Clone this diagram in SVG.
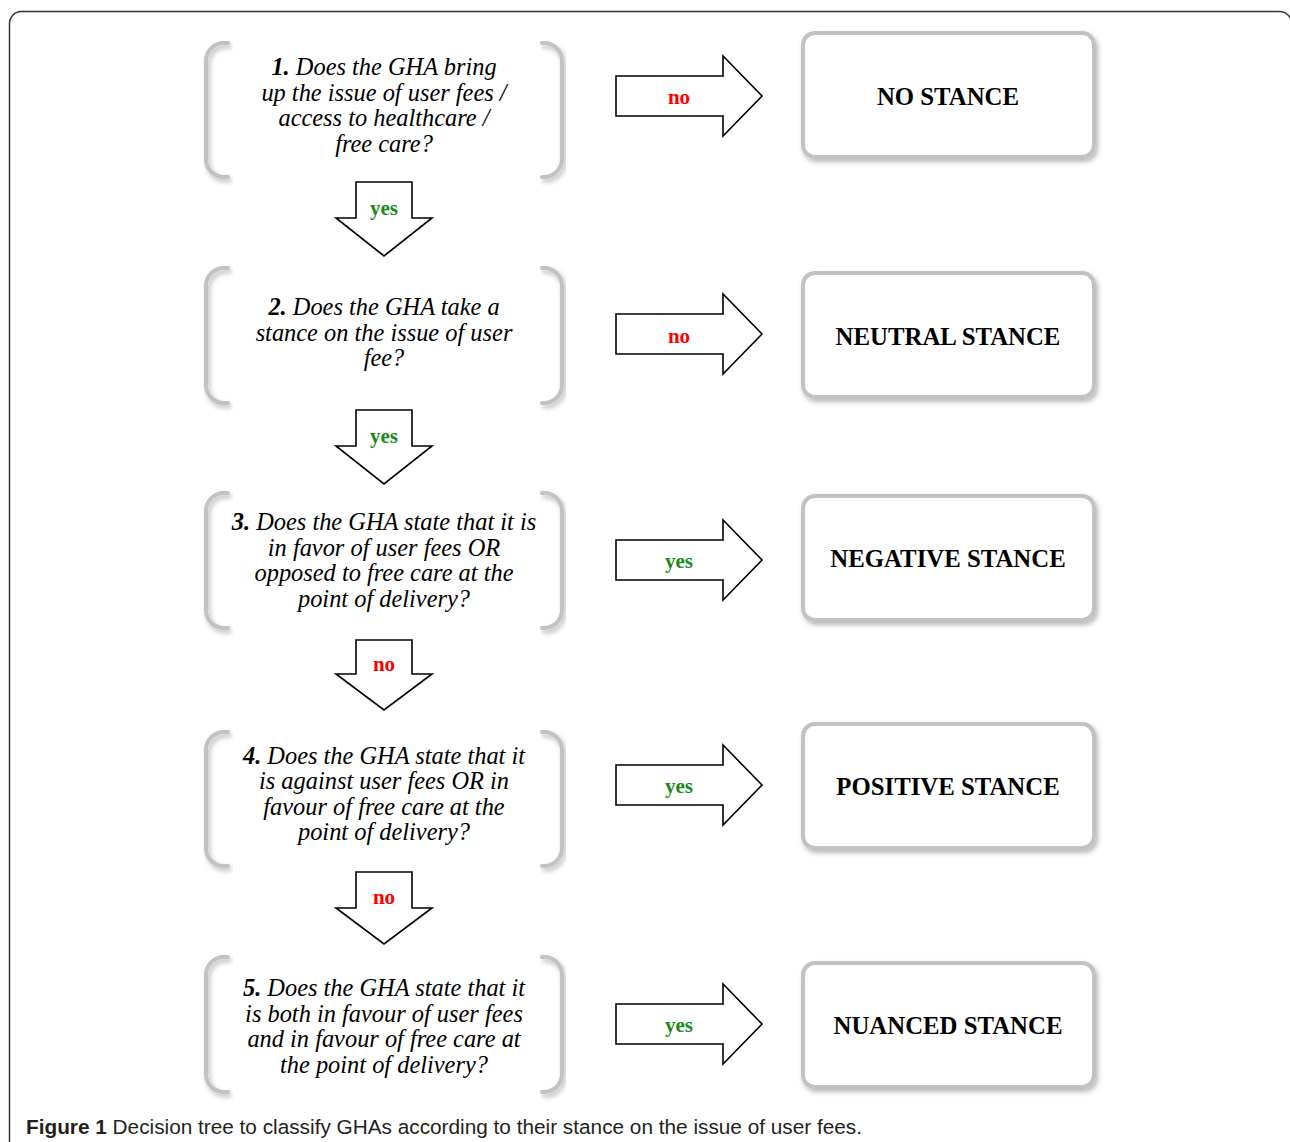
<svg xmlns="http://www.w3.org/2000/svg" width="1290" height="1142" viewBox="0 0 1290 1142">
<defs>
<filter id="sh" x="-10%" y="-10%" width="130%" height="130%">
<feDropShadow dx="2" dy="3" stdDeviation="2.5" flood-color="#000" flood-opacity="0.28"/>
</filter>
<style>
.br{fill:none;stroke:#c2c2c2;stroke-width:4;stroke-linecap:round;filter:url(#sh)}
.box{fill:#fff;stroke:#c2c2c2;stroke-width:4;filter:url(#sh)}
.q{font-family:"Liberation Serif",serif;font-style:italic;font-size:24.4px;fill:#000;text-anchor:middle}
.q .n{font-weight:bold}
.res{font-family:"Liberation Serif",serif;font-weight:bold;font-size:24.8px;fill:#000;text-anchor:middle}
.arr{fill:#fff;stroke:#000;stroke-width:1.6;stroke-linejoin:miter}
.lab{font-family:"Liberation Serif",serif;font-weight:bold;font-size:21px;text-anchor:middle}
.yes{fill:#1a8a1a}
.no{fill:#ff0000}
.cap{font-family:"Liberation Sans",sans-serif;font-size:20px;fill:#231f20}
</style>
</defs>
<rect width="1290" height="1142" fill="#fff"/>
<rect x="9.5" y="11.5" width="1282" height="1200" rx="12" fill="none" stroke="#333" stroke-width="1.5"/>

<g id="q1">
<path class="br" d="M228,43 H224 A18,18 0 0 0 206,61 V159 A18,18 0 0 0 224,177 H228"/>
<path class="br" d="M542,43 H544 A18,18 0 0 1 562,61 V159 A18,18 0 0 1 544,177 H542"/>
<text class="q" x="384" y="75"><tspan class="n">1.</tspan> Does the GHA bring</text>
<text class="q" x="384" y="100.5">up the issue of user fees /</text>
<text class="q" x="384" y="126">access to healthcare /</text>
<text class="q" x="384" y="151.5">free care?</text>
</g>
<g id="q2">
<path class="br" d="M228,268 H224 A18,18 0 0 0 206,286 V385 A18,18 0 0 0 224,403 H228"/>
<path class="br" d="M542,268 H544 A18,18 0 0 1 562,286 V385 A18,18 0 0 1 544,403 H542"/>
<text class="q" x="384" y="315"><tspan class="n">2.</tspan> Does the GHA take a</text>
<text class="q" x="384" y="341">stance on the issue of user</text>
<text class="q" x="384" y="366">fee?</text>
</g>
<g id="q3">
<path class="br" d="M228,493 H224 A18,18 0 0 0 206,511 V610 A18,18 0 0 0 224,628 H228"/>
<path class="br" d="M542,493 H544 A18,18 0 0 1 562,511 V610 A18,18 0 0 1 544,628 H542"/>
<text class="q" x="384" y="530"><tspan class="n">3.</tspan> Does the GHA state that it is</text>
<text class="q" x="384" y="556">in favor of user fees OR</text>
<text class="q" x="384" y="581">opposed to free care at the</text>
<text class="q" x="384" y="607">point of delivery?</text>
</g>
<g id="q4">
<path class="br" d="M228,732 H224 A18,18 0 0 0 206,750 V848 A18,18 0 0 0 224,866 H228"/>
<path class="br" d="M542,732 H544 A18,18 0 0 1 562,750 V848 A18,18 0 0 1 544,866 H542"/>
<text class="q" x="384" y="764"><tspan class="n">4.</tspan> Does the GHA state that it</text>
<text class="q" x="384" y="789">is against user fees OR in</text>
<text class="q" x="384" y="815">favour of free care at the</text>
<text class="q" x="384" y="840">point of delivery?</text>
</g>
<g id="q5">
<path class="br" d="M228,957 H224 A18,18 0 0 0 206,975 V1074 A18,18 0 0 0 224,1092 H228"/>
<path class="br" d="M542,957 H544 A18,18 0 0 1 562,975 V1074 A18,18 0 0 1 544,1092 H542"/>
<text class="q" x="384" y="996"><tspan class="n">5.</tspan> Does the GHA state that it</text>
<text class="q" x="384" y="1021.5">is both in favour of user fees</text>
<text class="q" x="384" y="1047">and in favour of free care at</text>
<text class="q" x="384" y="1072.5">the point of delivery?</text>
</g>

<g id="r1"><rect class="box" x="803" y="33" width="291" height="124" rx="12"/><text class="res" x="948" y="105">NO STANCE</text></g>
<g id="r2"><rect class="box" x="803" y="273" width="291" height="124" rx="12"/><text class="res" x="948" y="345">NEUTRAL STANCE</text></g>
<g id="r3"><rect class="box" x="803" y="496" width="291" height="124" rx="12"/><text class="res" x="948" y="567">NEGATIVE STANCE</text></g>
<g id="r4"><rect class="box" x="803" y="724" width="291" height="124" rx="12"/><text class="res" x="948" y="795">POSITIVE STANCE</text></g>
<g id="r5"><rect class="box" x="803" y="963" width="291" height="124" rx="12"/><text class="res" x="948" y="1034">NUANCED STANCE</text></g>

<g id="connectors">
<path class="arr" d="M616,76 H723 V56 L762,96 L723,136 V116 H616 Z"/>
<text class="lab no" x="679" y="104">no</text>
<path class="arr" d="M616,314 H723 V294 L762,334 L723,374 V354 H616 Z"/>
<text class="lab no" x="679" y="343">no</text>
<path class="arr" d="M616,540 H723 V520 L762,560 L723,600 V580 H616 Z"/>
<text class="lab yes" x="679" y="568">yes</text>
<path class="arr" d="M616,765 H723 V745 L762,785 L723,825 V805 H616 Z"/>
<text class="lab yes" x="679" y="793">yes</text>
<path class="arr" d="M616,1004 H723 V984 L762,1024 L723,1064 V1044 H616 Z"/>
<text class="lab yes" x="679" y="1032">yes</text>

<path class="arr" d="M356,182 H412 V218 H432 L384,256 L336,218 H356 Z"/>
<text class="lab yes" x="384" y="215">yes</text>
<path class="arr" d="M356,410 H412 V446 H432 L384,484 L336,446 H356 Z"/>
<text class="lab yes" x="384" y="443">yes</text>
<path class="arr" d="M356,640 H412 V674 H432 L384,710 L336,674 H356 Z"/>
<text class="lab no" x="384" y="671">no</text>
<path class="arr" d="M356,872 H412 V908 H432 L384,944 L336,908 H356 Z"/>
<text class="lab no" x="384" y="904">no</text>
</g>

<text class="cap" x="26" y="1134" textLength="836" lengthAdjust="spacingAndGlyphs"><tspan font-weight="bold">Figure 1</tspan> Decision tree to classify GHAs according to their stance on the issue of user fees.</text>
</svg>
